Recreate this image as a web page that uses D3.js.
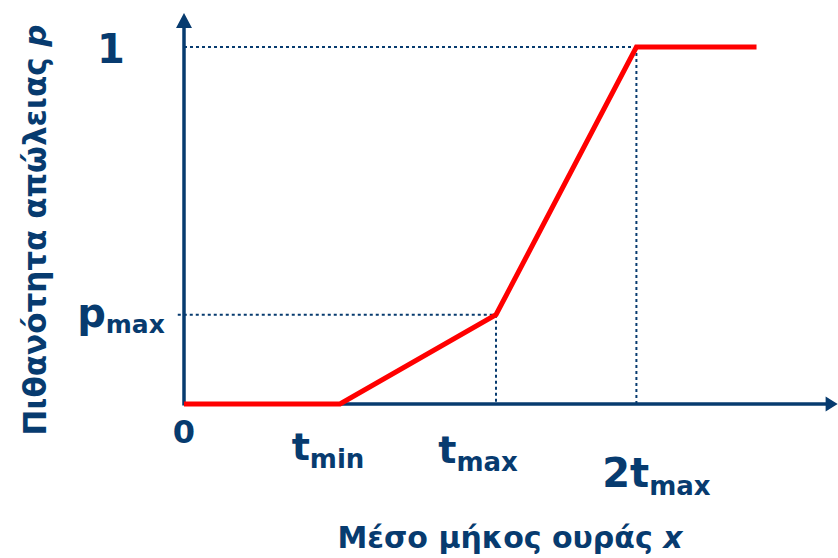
<!DOCTYPE html>
<html>
<head>
<meta charset="utf-8">
<script src="https://cdn.jsdelivr.net/npm/d3@7"></script>
<style>
  body { margin: 0; background: #fff; }
  text { font-family: "DejaVu Sans", sans-serif; font-weight: bold; fill: #073b6f; }
</style>
</head>
<body>
<div id="chart"></div>
<script>
// data //
// queue length in abstract units (tmin = 1)
const breakX = [0, 1, 2, 2.9, 3.67]
const breakP = [0, 0, 0.25, 1, 1]
const xTicks = [
  { x: 0, main: '0', sub: '' },
  { x: 1, main: 't', sub: 'min' },
  { x: 2, main: 't', sub: 'max' },
  { x: 2.9, main: '2t', sub: 'max' }
]
const yTicks = [
  { p: 1, main: '1', sub: '' },
  { p: 0.25, main: 'p', sub: 'max' }
]
const xTitle = 'Μέσο μήκος ουράς '
const yTitle = 'Πιθανότητα απώλειας '

// svg //
const width = 838
const height = 558
const navy = '#073b6f'

const svg = d3.select('#chart').append('svg')
  .attr('width', width)
  .attr('height', height)

const x = d3.scaleLinear().domain([0, 1]).range([184, 340])
const y = d3.scaleLinear().domain([0, 1]).range([404, 47])
const xEnd = 4.19
const yEnd = 1.095

// dotted guides
const guides = [
  [[0, 1], [2.9, 1]],
  [[-0.04, 0.25], [2, 0.25]],
  [[2, 0.25], [2, 0]],
  [[2.9, 1], [2.9, 0]]
]
svg.selectAll('.guide')
  .data(guides)
  .enter()
  .append('line')
  .attr('class', 'guide')
  .attr('x1', d => x(d[0][0]))
  .attr('y1', d => y(d[0][1]))
  .attr('x2', d => x(d[1][0]))
  .attr('y2', d => y(d[1][1]))
  .attr('stroke', navy)
  .attr('stroke-width', 2)
  .attr('stroke-dasharray', '3,3')

// axes
svg.append('line')
  .attr('x1', x(0)).attr('y1', y(0))
  .attr('x2', x(xEnd) - 8).attr('y2', y(0))
  .attr('stroke', navy).attr('stroke-width', 3.5)
svg.append('line')
  .attr('x1', x(0)).attr('y1', y(0) + 1.5)
  .attr('x2', x(0)).attr('y2', y(yEnd) + 8)
  .attr('stroke', navy).attr('stroke-width', 3.5)

const xa = x(xEnd), ya = y(0)
svg.append('path')
  .attr('d', `M${xa},${ya} L${xa - 12},${ya - 7.5} L${xa - 12},${ya + 7.5} Z`)
  .attr('fill', navy)
const xb = x(0), yb = y(yEnd)
svg.append('path')
  .attr('d', `M${xb},${yb} L${xb - 8},${yb + 15} L${xb + 8},${yb + 15} Z`)
  .attr('fill', navy)

// red curve
const line = d3.line()
  .x(d => x(d[0]))
  .y(d => y(d[1]))
svg.append('path')
  .datum(d3.zip(breakX, breakP))
  .attr('d', line)
  .attr('fill', 'none')
  .attr('stroke', '#ff0000')
  .attr('stroke-width', 5)
  .attr('stroke-linejoin', 'miter')

// x tick labels
const xLab = svg.selectAll('.xlab')
  .data(xTicks)
  .enter()
  .append('text')
  .attr('class', 'xlab')
  .attr('text-anchor', 'middle')
  .attr('x', (d, i) => x(d.x) + [0, -12, -18, 20][i])
  .attr('y', (d, i) => [443, 460, 463, 487][i])
  .style('font-size', (d, i) => [32, 38, 38, 40][i] + 'px')
xLab.append('tspan').text(d => d.main)
xLab.append('tspan')
  .attr('dy', 8)
  .style('font-size', '26px')
  .text(d => d.sub)

// y tick labels
const yLab = svg.selectAll('.ylab')
  .data(yTicks)
  .enter()
  .append('text')
  .attr('class', 'ylab')
  .attr('text-anchor', 'middle')
  .attr('x', (d, i) => [111, 121][i])
  .attr('y', (d, i) => y(d.p) + [16, 12][i])
  .style('font-size', (d, i) => [40, 40][i] + 'px')
yLab.append('tspan').text(d => d.main)
yLab.append('tspan')
  .attr('dy', 6)
  .style('font-size', '25px')
  .text(d => d.sub)

// axis titles
const xt = svg.append('text')
  .attr('x', 510)
  .attr('y', 548)
  .attr('text-anchor', 'middle')
  .style('font-size', '30px')
xt.append('tspan').text(xTitle)
xt.append('tspan').style('font-style', 'italic').text('x')

const yt = svg.append('text')
  .attr('transform', 'translate(46, 230) rotate(-90)')
  .attr('text-anchor', 'middle')
  .style('font-size', '31px')
yt.append('tspan').text(yTitle)
yt.append('tspan').style('font-style', 'italic').text('p')
</script>
</body>
</html>
